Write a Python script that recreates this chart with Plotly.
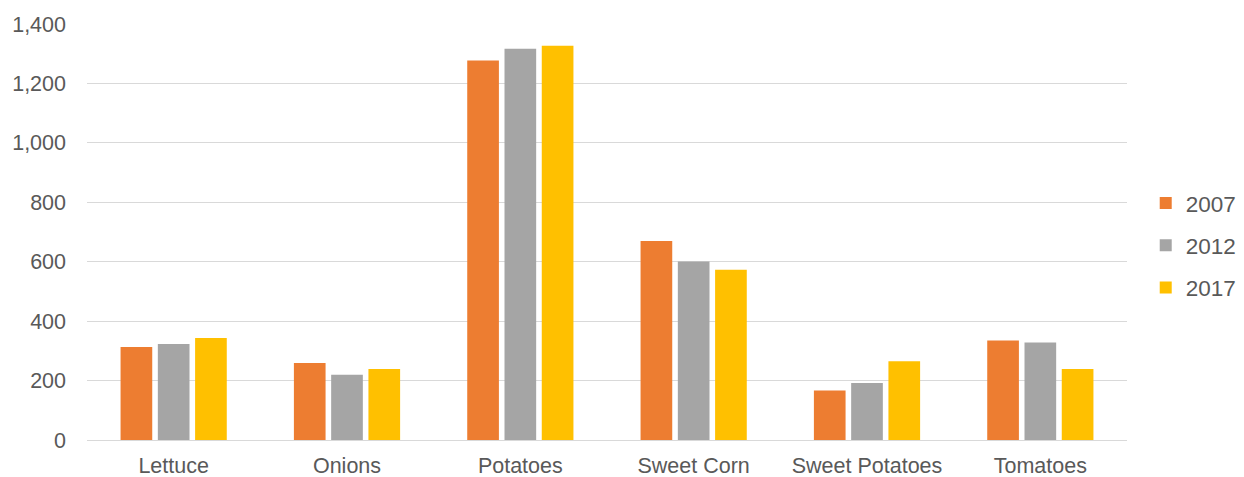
import plotly.graph_objects as go

categories = ["Lettuce", "Onions", "Potatoes", "Sweet Corn", "Sweet Potatoes", "Tomatoes"]
years = ["2007", "2012", "2017"]
v2007 = [313, 259, 1277, 670, 167, 335]
v2012 = [323, 220, 1317, 601, 192, 328]
v2017 = [343, 239, 1327, 573, 265, 239]
colors = ["#ED7D31", "#A5A5A5", "#FFC000"]

fig = go.Figure()
for name, vals, c in zip(years, [v2007, v2012, v2017], colors):
    fig.add_trace(go.Bar(name=name, x=categories, y=vals, marker=dict(color=c, line=dict(width=0)),
                         legendgroup=name))

fig.update_layout(
    width=1244, height=477,
    margin=dict(l=87, r=117, t=24, b=37, autoexpand=False),
    paper_bgcolor="white", plot_bgcolor="white",
    barmode="group", bargap=0.355, bargroupgap=0.15,
    font=dict(family="Liberation Sans, Arial", size=21.5, color="#595959"),
    legend=dict(x=1.018, y=0.468, xanchor="left", yanchor="middle", tracegroupgap=10,
                itemwidth=30, font=dict(size=22.5, color="#595959")),
    showlegend=True,
)
fig.update_yaxes(range=[0, 1400], dtick=200, tickformat=",", gridcolor="#D9D9D9", gridwidth=1,
                 zeroline=True, zerolinecolor="#D9D9D9", zerolinewidth=1, ticks="", showline=False,
                 ticklabelstandoff=20, automargin=False)
fig.update_xaxes(showline=False, ticks="", showgrid=False, ticklabelstandoff=10, automargin=False)

fig.write_html("out.html")
